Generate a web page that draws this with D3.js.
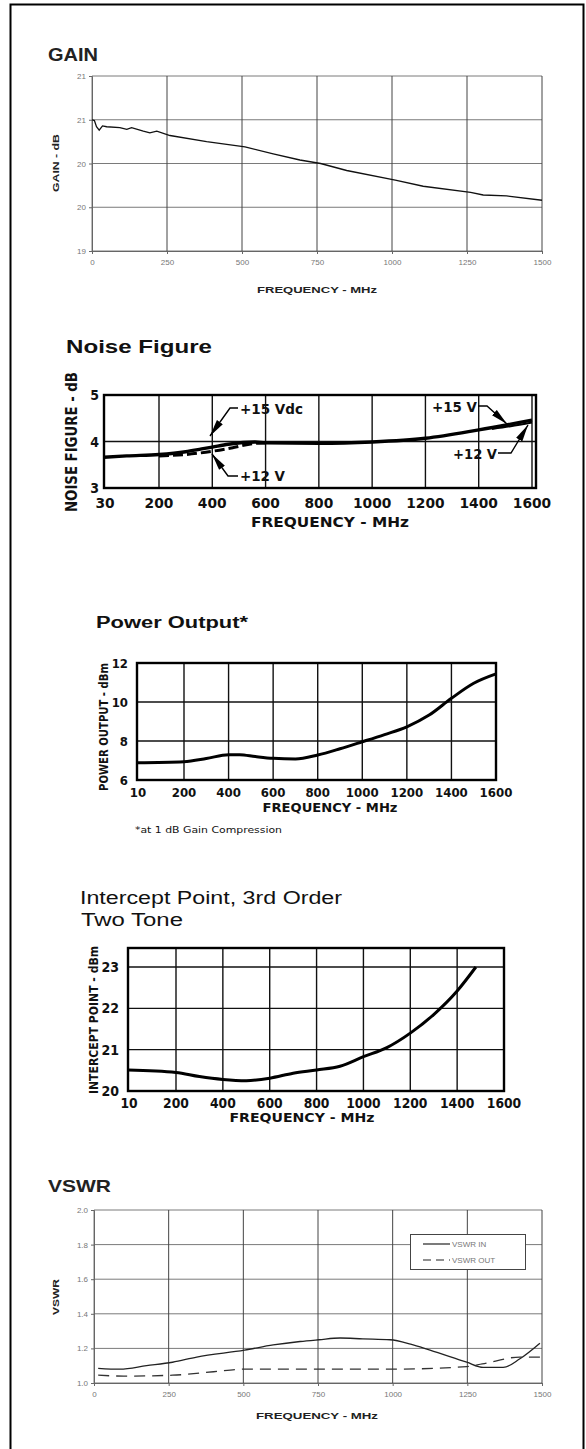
<!DOCTYPE html>
<html><head><meta charset="utf-8">
<script src="https://cdn.jsdelivr.net/npm/d3@7"></script>
<style>html,body{margin:0;padding:0;background:#fff}svg{display:block}</style>
</head><body>
<svg id="c" width="586" height="1449"></svg>
<script>
// ---------- DATA ----------
const gainFreq   = [0,8,15,24,35,49,93,116,132,171,193,216,260,382,510,604,693,762,849,1011,1104,1262,1304,1382,1500];
const gainValues = [20.5,20.49,20.42,20.38,20.43,20.42,20.41,20.39,20.41,20.37,20.35,20.37,20.32,20.25,20.19,20.11,20.04,20.0,19.92,19.81,19.74,19.67,19.64,19.63,19.58];
const gainXTicks = [0,250,500,750,1000,1250,1500];
const gainYTicks = [19,19.5,20,20.5,21];
const gainYLabels = ["19","20","20","21","21"];

const nfFreq15 = [30,100,200,300,360,400,460,560,600,800,1000,1200,1400,1600];
const nf15     = [3.66,3.69,3.72,3.78,3.84,3.88,3.94,3.99,3.97,3.96,3.99,4.07,4.25,4.46];
const nfFreq12 = [200,300,400,480,560,600];
const nf12     = [3.69,3.72,3.79,3.87,3.96,3.97];
const nfFreq12b = [1450,1520,1600];
const nf12b     = [4.27,4.33,4.41];
const nfXTicks = [30,200,400,600,800,1000,1200,1400,1600];
const nfYTicks = [3,4,5];

const powFreq   = [10,200,300,400,450,520,600,700,800,900,1000,1100,1200,1300,1400,1500,1600];
const powValues = [6.89,6.94,7.1,7.3,7.3,7.2,7.11,7.08,7.28,7.6,7.96,8.33,8.73,9.33,10.19,10.96,11.44];
const powXTicks = [10,200,400,600,800,1000,1200,1400,1600];
const powYTicks = [6,8,10,12];

const ipFreq   = [10,200,300,400,500,600,700,800,900,1000,1100,1200,1300,1400,1480];
const ipValues = [20.51,20.45,20.35,20.28,20.25,20.31,20.43,20.51,20.6,20.83,21.05,21.4,21.85,22.42,23.0];
const ipXTicks = [10,200,400,600,800,1000,1200,1400,1600];
const ipYTicks = [20,21,22,23];

const vswrInFreq  = [14,87,176,263,344,504,600,690,753,824,900,991,1060,1125,1248,1303,1370,1426,1493];
const vswrIn      = [1.085,1.08,1.10,1.12,1.15,1.19,1.22,1.24,1.25,1.26,1.255,1.25,1.225,1.19,1.12,1.09,1.09,1.14,1.23];
const vswrOutFreq = [14,100,263,400,504,700,1000,1248,1300,1426,1493];
const vswrOut     = [1.045,1.04,1.045,1.065,1.08,1.08,1.08,1.095,1.11,1.15,1.15];
const vswrXTicks  = [0,250,500,750,1000,1250,1500];
const vswrYTicks  = [1.0,1.2,1.4,1.6,1.8,2.0];
const vswrSeries  = ["VSWR IN","VSWR OUT"];

// ---------- HELPERS ----------
const svg = d3.select("#c");
const ARIAL = "'Liberation Sans', Arial, sans-serif";
const COND = "'DejaVu Sans Condensed','DejaVu Sans', sans-serif";
const zip = (a,b)=>a.map((v,i)=>[v,b[i]]);

function txt(x,y,s,o={}){
  const t = svg.append("text").attr("x",x).attr("y",y).text(s)
    .attr("font-family",o.family||ARIAL).attr("font-size",o.size||10)
    .attr("font-weight",o.weight||"normal").attr("fill",o.fill||"#000")
    .attr("text-anchor",o.anchor||"start");
  if(o.mid) t.attr("dominant-baseline","central");
  if(o.len){ t.attr("textLength",o.len).attr("lengthAdjust","spacingAndGlyphs"); }
  if(o.rot){ t.attr("transform",`rotate(${o.rot},${x},${y})`); }
  return t;
}

// outer frame
svg.append("path").attr("d","M10.5,1449 V4.5 H583.5 V1449").attr("fill","none").attr("stroke","#000").attr("stroke-width",2);

// ---------- Excel-style chart ----------
function excelChart(cfg){
  const x = d3.scaleLinear().domain(cfg.xDomain).range([cfg.left,cfg.right]);
  const y = d3.scaleLinear().domain(cfg.yDomain).range([cfg.bottom,cfg.top]);
  const g = svg.append("g");
  cfg.yTicks.forEach(v=>{
    g.append("line").attr("x1",cfg.left).attr("x2",cfg.right).attr("y1",y(v)).attr("y2",y(v))
      .attr("stroke","#7a7a7a").attr("stroke-width",1);
  });
  cfg.xTicks.forEach(v=>{
    g.append("line").attr("x1",x(v)).attr("x2",x(v)).attr("y1",cfg.top).attr("y2",cfg.bottom)
      .attr("stroke",v===0?"#7a7a7a":"#444").attr("stroke-width",1);
  });
  const ya = d3.axisLeft(y).tickValues(cfg.yTicks).tickSize(3).tickFormat((d,i)=>cfg.yLabels[i]);
  const xa = d3.axisBottom(x).tickValues(cfg.xTicks).tickSize(3).tickFormat(d3.format("d"));
  const gy = g.append("g").attr("transform",`translate(${cfg.left},0)`).call(ya);
  const gx = g.append("g").attr("transform",`translate(0,${cfg.bottom})`).call(xa);
  [gy,gx].forEach(a=>{
    a.selectAll("path,line").attr("stroke","#666");
    a.selectAll("text").attr("font-family",ARIAL).attr("font-size",8).attr("fill","#777");
  });
  gy.selectAll("text").attr("x",-6);
  gx.selectAll("text").attr("y",8);
  return {x,y,g};
}

// GAIN
(function(){
  const c = excelChart({left:92,right:542,top:76,bottom:251,xDomain:[0,1500],yDomain:[19,21],
    xTicks:gainXTicks,yTicks:gainYTicks,yLabels:gainYLabels});
  const line = d3.line().x(d=>c.x(d[0])).y(d=>c.y(d[1]));
  c.g.append("path").datum(zip(gainFreq,gainValues)).attr("d",line)
    .attr("fill","none").attr("stroke","#111").attr("stroke-width",1.3);
  txt(48,61,"GAIN",{size:19,weight:"bold",len:50,fill:"#222"});
  txt(56,163,"GAIN - dB",{size:9,weight:"bold",anchor:"middle",mid:true,rot:-90,len:58,fill:"#222"});
  txt(317,289,"FREQUENCY - MHz",{size:9.5,weight:"bold",anchor:"middle",mid:true,len:120,fill:"#222"});
})();

// VSWR
(function(){
  const c = excelChart({left:94,right:542,top:1210,bottom:1383,xDomain:[0,1500],yDomain:[1,2],
    xTicks:vswrXTicks,yTicks:vswrYTicks,yLabels:vswrYTicks.map(d3.format(".1f"))});
  const line = d3.line().x(d=>c.x(d[0])).y(d=>c.y(d[1])).curve(d3.curveMonotoneX);
  c.g.append("path").datum(zip(vswrInFreq,vswrIn)).attr("d",line)
    .attr("fill","none").attr("stroke","#222").attr("stroke-width",1.3);
  c.g.append("path").datum(zip(vswrOutFreq,vswrOut)).attr("d",line)
    .attr("fill","none").attr("stroke","#333").attr("stroke-width",1.3).attr("stroke-dasharray","11,7");
  const lg = c.g.append("g");
  lg.append("rect").attr("x",410.5).attr("y",1234.5).attr("width",115).attr("height",35)
    .attr("fill","#fff").attr("stroke","#444").attr("stroke-width",1);
  vswrSeries.forEach((s,i)=>{
    const yy = 1244 + i*16;
    lg.append("line").attr("x1",423).attr("x2",450).attr("y1",yy).attr("y2",yy)
      .attr("stroke","#222").attr("stroke-width",1.2).attr("stroke-dasharray",i?"8,5":null);
    lg.append("text").attr("x",452).attr("y",yy).attr("dominant-baseline","central")
      .attr("font-family",ARIAL).attr("font-size",8).attr("fill","#777").text(s);
  });
  txt(48,1192,"VSWR",{size:17,weight:"bold",len:63,fill:"#222"});
  txt(56,1297,"VSWR",{size:9,weight:"bold",anchor:"middle",mid:true,rot:-90,len:36,fill:"#222"});
  txt(317,1415,"FREQUENCY - MHz",{size:9.5,weight:"bold",anchor:"middle",mid:true,len:122,fill:"#222"});
})();

// ---------- datasheet style chart ----------
function sheetChart(cfg){
  const x = d3.scaleLinear().domain(cfg.xDomain).range(cfg.xRange);
  const y = d3.scaleLinear().domain(cfg.yDomain).range([cfg.bottom,cfg.top]);
  const left = cfg.xRange[0], right = cfg.right;
  const g = svg.append("g");
  cfg.yTicks.forEach(v=>{
    if(y(v)>cfg.top+1 && y(v)<cfg.bottom-1)
      g.append("line").attr("x1",left).attr("x2",right).attr("y1",y(v)).attr("y2",y(v))
        .attr("stroke","#111").attr("stroke-width",1.4);
  });
  cfg.xTicks.forEach(v=>{
    if(x(v)>left+1 && x(v)<right-1)
      g.append("line").attr("x1",x(v)).attr("x2",x(v)).attr("y1",cfg.top).attr("y2",cfg.bottom)
        .attr("stroke","#111").attr("stroke-width",1.4);
  });
  g.append("rect").attr("x",left).attr("y",cfg.top).attr("width",right-left).attr("height",cfg.bottom-cfg.top)
    .attr("fill","none").attr("stroke","#000").attr("stroke-width",2.4);
  cfg.yTicks.forEach(v=>{
    txt(cfg.yLabelX,y(v),String(v),{family:COND,size:cfg.tickSize||14,weight:"bold",anchor:"end",mid:true,fill:"#111"});
  });
  cfg.xTicks.forEach(v=>{
    const px = Math.max(x(v), left+ (cfg.firstShift||0));
    txt(px,cfg.xLabelY,String(v),{family:COND,size:cfg.tickSize||14,weight:"bold",anchor:"middle",mid:true,fill:"#111",len:String(v).length*(cfg.digitW||8.6)});
  });
  return {x,y,g};
}

const defs = svg.append("defs");
defs.append("marker").attr("id","wedge").attr("viewBox","-17 -4 17 8").attr("refX",0).attr("refY",0)
  .attr("markerWidth",17).attr("markerHeight",8).attr("markerUnits","userSpaceOnUse").attr("orient","auto")
  .append("path").attr("d","M0,0 L-17,-3.6 L-17,3.6 Z").attr("fill","#000");

// NOISE FIGURE
(function(){
  const c = sheetChart({xDomain:[30,200,1600],xRange:[104,159,532],right:536,top:395,bottom:488,yDomain:[3,5],
    xTicks:nfXTicks,yTicks:nfYTicks,yLabelX:99,xLabelY:503,firstShift:1,digitW:9.6});
  const line = d3.line().x(d=>c.x(d[0])).y(d=>c.y(d[1])).curve(d3.curveMonotoneX);
  c.g.append("path").datum(zip(nfFreq15,nf15)).attr("d",line).attr("fill","none").attr("stroke","#000").attr("stroke-width",3.4);
  c.g.append("path").datum(zip(nfFreq12,nf12)).attr("d",line).attr("fill","none").attr("stroke","#000").attr("stroke-width",3).attr("stroke-dasharray","10,4");
  c.g.append("path").datum(zip(nfFreq12b,nf12b)).attr("d",line).attr("fill","none").attr("stroke","#000").attr("stroke-width",2);
  const ann = (pts)=>c.g.append("path").attr("d",d3.line()(pts)).attr("fill","none").attr("stroke","#000").attr("stroke-width",1.4).attr("marker-end","url(#wedge)");
  ann([[238,408],[230,408],[210,436]]);
  ann([[238,476],[228,476],[212,454]]);
  ann([[478,406],[487,406],[507,424]]);
  ann([[498,453],[511,453],[528,425]]);
  txt(240,409,"+15 Vdc",{family:COND,size:14,weight:"bold",mid:true,len:63,fill:"#111"});
  txt(240,476,"+12 V",{family:COND,size:14,weight:"bold",mid:true,len:45,fill:"#111"});
  txt(432,407,"+15 V",{family:COND,size:14,weight:"bold",mid:true,len:45,fill:"#111"});
  txt(453,454,"+12 V",{family:COND,size:14,weight:"bold",mid:true,len:44,fill:"#111"});
  txt(66,353,"Noise Figure",{size:18,weight:"bold",len:146,fill:"#111"});
  txt(72,442,"NOISE FIGURE - dB",{family:COND,size:15,weight:"bold",anchor:"middle",mid:true,rot:-90,len:140,fill:"#111"});
  txt(330,522,"FREQUENCY - MHz",{family:COND,size:14,weight:"bold",anchor:"middle",mid:true,len:158,fill:"#111"});
})();

// POWER OUTPUT
(function(){
  const c = sheetChart({xDomain:[10,200,1600],xRange:[137,184,496],right:496,top:663,bottom:780,yDomain:[6,12],
    xTicks:powXTicks,yTicks:powYTicks,yLabelX:128,xLabelY:792,firstShift:1,digitW:8.2,tickSize:13});
  const line = d3.line().x(d=>c.x(d[0])).y(d=>c.y(d[1])).curve(d3.curveMonotoneX);
  c.g.append("path").datum(zip(powFreq,powValues)).attr("d",line).attr("fill","none").attr("stroke","#000").attr("stroke-width",3);
  txt(96,628,"Power Output*",{size:16,weight:"bold",len:152,fill:"#111"});
  txt(103,727,"POWER OUTPUT - dBm",{family:COND,size:13,weight:"bold",anchor:"middle",mid:true,rot:-90,len:128,fill:"#111"});
  txt(330,808,"FREQUENCY - MHz",{family:COND,size:12,weight:"bold",anchor:"middle",mid:true,len:135,fill:"#111"});
  txt(135,830,"*at 1 dB Gain Compression",{family:COND,size:9,mid:true,len:147,fill:"#111"});
})();

// INTERCEPT POINT
(function(){
  const c = sheetChart({xDomain:[10,200,1600],xRange:[128,176,504],right:504,top:948,bottom:1091,yDomain:[20,23.46],
    xTicks:ipXTicks,yTicks:ipYTicks,yLabelX:119,xLabelY:1103,firstShift:1,digitW:8.6,tickSize:14});
  const line = d3.line().x(d=>c.x(d[0])).y(d=>c.y(d[1])).curve(d3.curveMonotoneX);
  c.g.append("path").datum(zip(ipFreq,ipValues)).attr("d",line).attr("fill","none").attr("stroke","#000").attr("stroke-width",3);
  txt(80,904,"Intercept Point, 3rd Order",{size:18,len:262,fill:"#111"});
  txt(81,926,"Two Tone",{size:18,len:102,fill:"#111"});
  txt(93,1020,"INTERCEPT POINT - dBm",{family:COND,size:13,weight:"bold",anchor:"middle",mid:true,rot:-90,len:148,fill:"#111"});
  txt(302,1118,"FREQUENCY - MHz",{family:COND,size:12,weight:"bold",anchor:"middle",mid:true,len:145,fill:"#111"});
})();
</script>
</body></html>
